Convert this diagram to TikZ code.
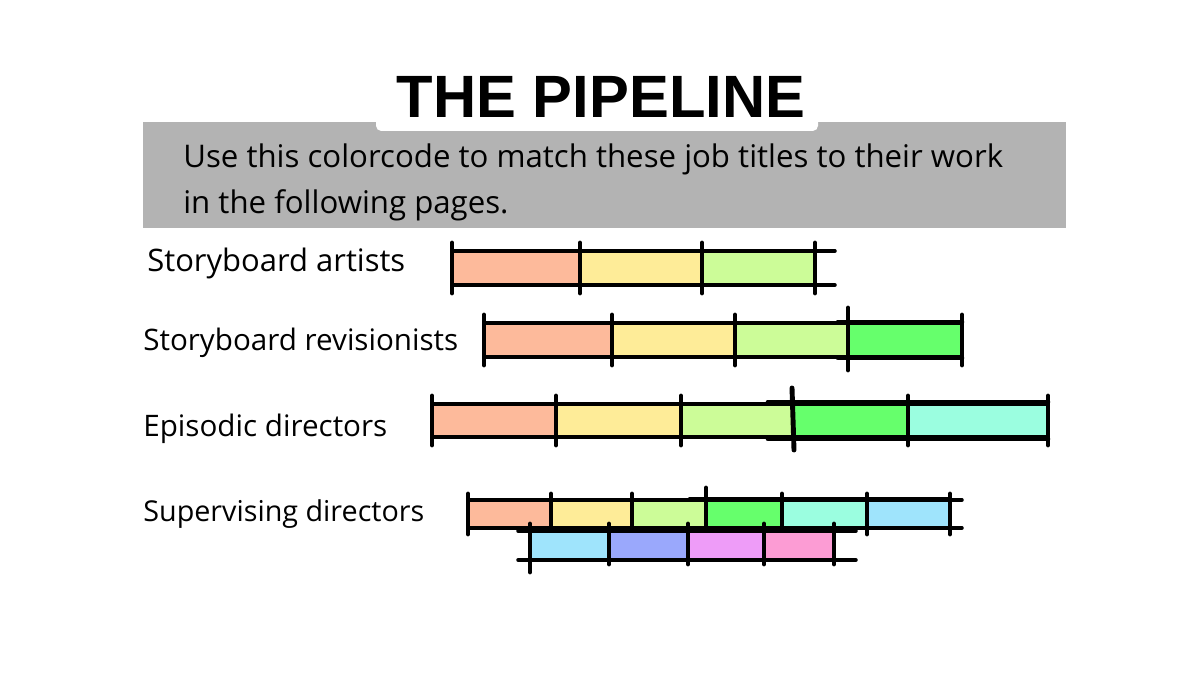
\documentclass[tikz,border=0pt]{standalone}
\usepackage{fontspec}
\setmainfont{Open Sans}
\newfontfamily\titlefont{Liberation Sans}
\definecolor{graybox}{HTML}{B3B3B3}
\definecolor{cSalmon}{HTML}{FDBA9B}
\definecolor{cYellow}{HTML}{FEEC98}
\definecolor{cLime}{HTML}{CCFC98}
\definecolor{cGreen}{HTML}{66FF6C}
\definecolor{cAqua}{HTML}{9BFEE0}
\definecolor{cSky}{HTML}{9FE4FC}
\definecolor{cPeri}{HTML}{9AA8FC}
\definecolor{cViolet}{HTML}{EE9CF8}
\definecolor{cPink}{HTML}{FC9CD4}
\newsavebox\introbox
\begin{document}
\sbox\introbox{\fontsize{16}{19}\selectfont Use this colorcode to match these job titles to their work}%
\pgfmathsetmacro\introscale{16.4cm/\wd\introbox}%
\begin{tikzpicture}[x=0.02cm,y=-0.02cm,
  barline/.style={line width=2pt,line cap=round},
  tickline/.style={line width=2.8pt,line cap=round},
  hand/.style={anchor=base west,inner sep=0pt,font=\fontsize{16}{19}\selectfont}]
\useasboundingbox[fill=white] (0,0) rectangle (1200,675);
% header
\fill[graybox] (143,122) rectangle (1066,228);
\fill[white,rounded corners=3pt] (376,50) rectangle (818,131);
\node[anchor=base,inner sep=0pt,font=\titlefont\bfseries\fontsize{34}{40}\selectfont] (title) at (601,118) {THE PIPELINE};
\node[hand] (intro1) at (183,168) {\scalebox{\introscale}{Use this colorcode to match these job titles to their work}};
\node[hand] (intro2) at (183,214) {\scalebox{\introscale}{in the following pages.}};
% labels
\node[hand] (lab1) at (147,272) {\resizebox{5.16cm}{!}{Storyboard artists}};
\node[hand] (lab2) at (143,351) {\resizebox{6.3cm}{!}{Storyboard revisionists}};
\node[hand] (lab3) at (143,437) {\resizebox{4.88cm}{!}{Episodic directors}};
\node[hand] (lab4) at (143,521) {\resizebox{5.62cm}{!}{Supervising directors}};
% row 1
\foreach \a/\b/\c in {452/580/cSalmon,580/702/cYellow,702/815/cLime}
  \fill[\c] (\a,251) rectangle (\b,285);
\draw[barline] (452,251) -- (835,251) (452,285) -- (835,285);
\foreach \t in {452,580,702,815} \draw[tickline] (\t,243) -- (\t,293);
% row 2
\foreach \a/\b/\c in {484/612/cSalmon,612/735/cYellow,735/848/cLime,848/962/cGreen}
  \fill[\c] (\a,323) rectangle (\b,357);
\draw[barline] (484,323) -- (962,323) (484,357) -- (962,357);
\draw[barline,line width=2.6pt] (838,322) -- (962,322) (838,358) -- (962,358);
\foreach \t in {484,612,735,962} \draw[tickline] (\t,315) -- (\t,365);
\draw[tickline] (848,308) -- (848,370);
% row 3
\foreach \a/\b/\c in {432/556/cSalmon,556/681/cYellow,681/792/cLime,792/908/cGreen,908/1048/cAqua}
  \fill[\c] (\a,404) rectangle (\b,437);
\draw[barline] (432,404) -- (1048,404) (432,437) -- (1048,437);
\draw[barline,line width=2.6pt] (768,402) -- (1048,402) (768,439) -- (1048,439);
\foreach \t in {432,556,681,908,1048} \draw[tickline] (\t,396) -- (\t,445);
\draw[tickline] (792,388) -- (794,450);
% row 4a
\foreach \a/\b/\c in {468/551/cSalmon,551/632/cYellow,632/706/cLime,706/782/cGreen,782/867/cAqua,867/950/cSky}
  \fill[\c] (\a,500) rectangle (\b,528);
\draw[barline] (468,500) -- (962,500) (468,528) -- (962,528);
\draw[barline,line width=2.6pt] (690,499) -- (950,499) (690,529) -- (850,529);
\foreach \t in {468,551,632,782,867,950} \draw[tickline] (\t,494) -- (\t,534);
\draw[tickline] (706,488) -- (706,536);
% row 4b
\foreach \a/\b/\c in {530/609/cSky,609/688/cPeri,688/764/cViolet,764/834/cPink}
  \fill[\c] (\a,531) rectangle (\b,560);
\draw[barline] (518,531) -- (856,531) (518,560) -- (856,560);
\foreach \t in {609,688,764,834} \draw[tickline] (\t,524) -- (\t,564);
\draw[tickline] (530,524) -- (530,572);
\end{tikzpicture}
\end{document}
